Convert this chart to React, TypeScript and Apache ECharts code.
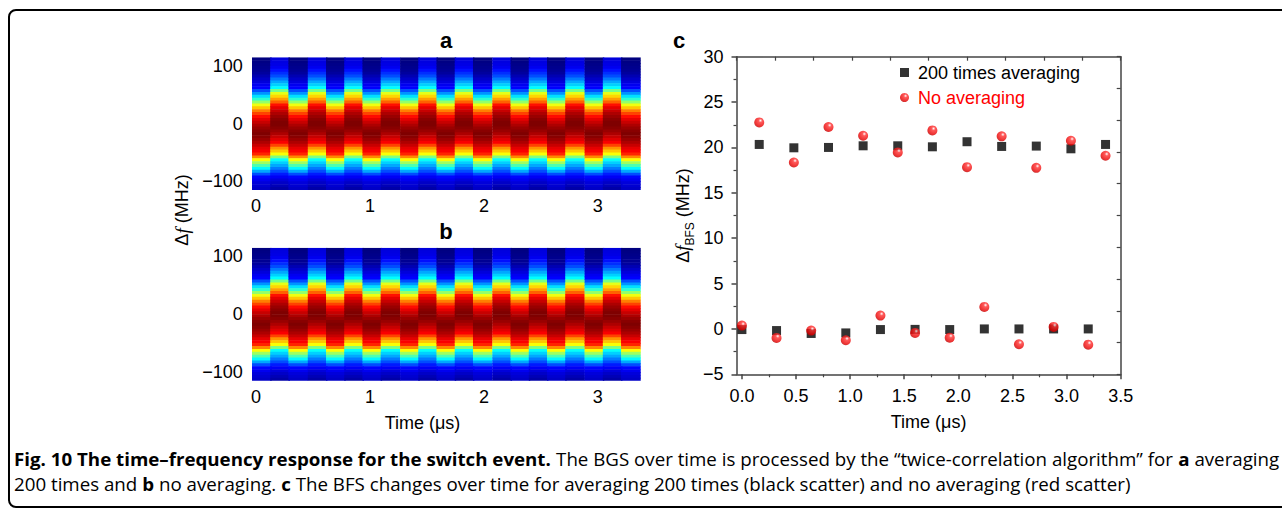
import React, { useEffect, useRef } from 'react';
import * as echarts from 'echarts';

// ---------- Heatmap data (panels a and b) ----------
// column centres on the time axis (µs)
const heatTimes = [0.05, 0.21, 0.37, 0.54, 0.70, 0.86, 1.02, 1.18, 1.35, 1.51, 1.67, 1.83, 1.99, 2.16, 2.32, 2.48, 2.64, 2.80, 2.97, 3.13, 3.29];
// row centres on the frequency axis (MHz)
const heatRows = [112.5, 107.5, 102.5, 97.5, 92.5, 87.5, 82.5, 77.5, 72.5, 67.5, 62.5, 57.5, 52.5, 47.5, 42.5, 37.5, 32.5, 27.5, 22.5, 17.5, 12.5, 7.5, 2.5, -2.5, -7.5, -12.5, -17.5, -22.5, -27.5, -32.5, -37.5, -42.5, -47.5, -52.5, -57.5, -62.5, -67.5, -72.5, -77.5, -82.5, -87.5, -92.5, -97.5, -102.5, -107.5, -112.5];
// normalised gain per row for columns whose peak sits higher ("L") and lower ("D")
const profileLight = [0.09, 0.095, 0.10, 0.11, 0.14, 0.17, 0.20, 0.245, 0.29, 0.33, 0.375, 0.49, 0.60, 0.665, 0.72, 0.78, 0.86, 0.90, 0.93, 0.955, 0.975, 0.99, 1.0, 1.0, 0.99, 0.975, 0.955, 0.93, 0.905, 0.88, 0.81, 0.73, 0.68, 0.62, 0.50, 0.38, 0.33, 0.29, 0.245, 0.20, 0.15, 0.115, 0.09, 0.07, 0.055, 0.04];
const profileDark = [0.0, 0.005, 0.01, 0.015, 0.02, 0.03, 0.05, 0.07, 0.09, 0.11, 0.125, 0.20, 0.27, 0.345, 0.42, 0.52, 0.61, 0.68, 0.75, 0.81, 0.865, 0.90, 0.93, 0.955, 0.975, 0.99, 1.0, 0.99, 0.975, 0.955, 0.93, 0.90, 0.88, 0.84, 0.74, 0.625, 0.53, 0.45, 0.37, 0.29, 0.20, 0.13, 0.11, 0.09, 0.08, 0.07];
const colTypesA = ['D', 'L', 'D', 'L', 'D', 'L', 'D', 'L', 'D', 'L', 'D', 'L', 'D', 'L', 'D', 'L', 'D', 'L', 'D', 'L', 'D'];
const colTypesB = ['D', 'L', 'D', 'L', 'D', 'L', 'D', 'L', 'D', 'L', 'D', 'L', 'D', 'L', 'D', 'L', 'D', 'L', 'D', 'L', 'D'];

// ---------- Scatter data (panel c) ----------
const timesHigh = [0.16, 0.48, 0.80, 1.12, 1.44, 1.76, 2.08, 2.40, 2.72, 3.04, 3.36];
const avgHigh = [20.33, 19.96, 20.0, 20.18, 20.18, 20.07, 20.63, 20.11, 20.15, 19.85, 20.33];
const noAvgHigh = [22.76, 18.34, 22.25, 21.29, 19.45, 21.88, 17.83, 21.22, 17.75, 20.74, 19.08];
const timesLow = [0, 0.32, 0.64, 0.96, 1.28, 1.60, 1.92, 2.24, 2.56, 2.88, 3.20];
const avgLow = [-0.07, -0.18, -0.5, -0.44, -0.07, -0.05, -0.07, 0, 0, 0, 0];
const noAvgLow = [0.37, -0.99, -0.18, -1.25, 1.47, -0.44, -0.96, 2.43, -1.69, 0.22, -1.73];

// ---------- Tick labels ----------
const heatXTicks = [0, 1, 2, 3];
const heatYTicks = [-100, 0, 100];
const cXTicks = [0, 0.5, 1.0, 1.5, 2.0, 2.5, 3.0, 3.5];
const cXMinor = [0.25, 0.75, 1.25, 1.75, 2.25, 2.75, 3.25];

const JET = ['#00007f', '#0000ff', '#007fff', '#00ffff', '#7fff7f', '#ffff00', '#ff7f00', '#ff0000', '#7f0000'];
const FONT = '"Liberation Sans", Arial, Helvetica, sans-serif';
const CAP_FONT = '"Open Sans", "Noto Sans", sans-serif';
const AX = '#444444';
const COL_W = 0.162;
const ROW_H = 5;

function buildHeat(types: string[]) {
  const out: number[][] = [];
  heatTimes.forEach((t, i) => {
    const prof = types[i] === 'D' ? profileDark : profileLight;
    heatRows.forEach((f, j) => out.push([t, f, prof[j]]));
  });
  return out;
}

const zip = (xs: number[], ys: number[]) => xs.map((x, i) => [x, ys[i]]);
const minus = (v: number) => (v < 0 ? '\u2212' + String(Math.abs(v)) : String(v));

const renderCell = (_params: any, api: any) => {
  const t = api.value(0);
  const f = api.value(1);
  const a = api.coord([t - COL_W / 2, f + ROW_H / 2]);
  const b = api.coord([t + COL_W / 2, f - ROW_H / 2]);
  return {
    type: 'rect',
    shape: { x: a[0] - 0.6, y: a[1], width: b[0] - a[0] + 1.2, height: b[1] - a[1] + 0.6 },
    style: { fill: api.visual('color') },
  };
};

const heatX = (grid: number) => ({
  type: 'value', gridIndex: grid, min: -0.03, max: 3.37,
  axisLine: { show: false }, axisTick: { show: false }, splitLine: { show: false },
  axisLabel: { customValues: heatXTicks, fontSize: 18, color: '#000', margin: 7, fontFamily: FONT },
});
const heatY = (grid: number) => ({
  type: 'value', gridIndex: grid, min: -115, max: 115,
  axisLine: { show: false }, axisTick: { show: false }, splitLine: { show: false },
  axisLabel: { customValues: heatYTicks, fontSize: 18, color: '#000', margin: 10, fontFamily: FONT, formatter: (v: number) => minus(v) },
});

const sphere = {
  type: 'radial', x: 0.62, y: 0.32, r: 0.75,
  colorStops: [
    { offset: 0, color: '#ffffff' },
    { offset: 0.25, color: '#ff3030' },
    { offset: 0.75, color: '#e80000' },
    { offset: 1, color: '#b00000' },
  ],
};

const boldText = (text: string, x: number, y: number) => ({
  type: 'text', x, y,
  style: { text, fontSize: 22, fontWeight: 'bold', fontFamily: FONT, fill: '#000', align: 'center', verticalAlign: 'middle', textAlign: 'center', textVerticalAlign: 'middle' },
});

const captionText = (text: string, y: number) => ({
  type: 'text', x: 14, y, scaleX: 1.07, scaleY: 1,
  style: {
    text, fontSize: 17.5, fontFamily: CAP_FONT, fill: '#000',
    verticalAlign: 'middle', textVerticalAlign: 'middle',
    rich: { b: { fontWeight: 'bold', fontSize: 17.5, fontFamily: CAP_FONT, fill: '#000' } },
  },
});

export default function App() {
  const ref = useRef<HTMLDivElement>(null);
  useEffect(() => {
    if (!ref.current) return;
    const chart = echarts.init(ref.current, null, { renderer: 'svg', width: 1282, height: 511 });
    const option: any = {
      animation: false,
      backgroundColor: '#ffffff',
      textStyle: { fontFamily: FONT },
      grid: [
        { left: 252.7, top: 57.3, width: 387.3, height: 132.7 },
        { left: 252.7, top: 247.7, width: 387.3, height: 133 },
        { left: 736.5, top: 56.7, width: 384.2, height: 317.6 },
      ],
      visualMap: {
        type: 'continuous', show: false, min: 0, max: 1, dimension: 2, seriesIndex: [0, 1],
        inRange: { color: JET },
      },
      legend: {
        orient: 'vertical', left: 900, top: 62.5, itemWidth: 9, itemHeight: 9, itemGap: 5, padding: 0,
        textStyle: { fontSize: 18, color: '#000', lineHeight: 20, padding: [0, 0, 0, 4], fontFamily: FONT },
        data: [
          { name: '200 times averaging', icon: 'rect' },
          { name: 'No averaging', icon: 'circle', textStyle: { color: '#ff0000' } },
        ],
      },
      xAxis: [
        heatX(0),
        heatX(1),
        {
          type: 'value', gridIndex: 2, min: -0.05, max: 3.5,
          axisLine: { show: true, onZero: false, lineStyle: { color: AX, width: 1.5 } },
          axisTick: { show: true, customValues: cXTicks, length: 5, lineStyle: { color: AX, width: 1.5 } },
          axisLabel: { customValues: cXTicks, fontSize: 18, color: '#000', margin: 13, fontFamily: FONT, formatter: (v: number) => v.toFixed(1) },
          splitLine: { show: false },
          name: 'Time (\u03bcs)', nameLocation: 'middle', nameGap: 39,
          nameTextStyle: { fontSize: 18, color: '#000', fontFamily: FONT },
        },
        {
          type: 'value', gridIndex: 2, min: -0.05, max: 3.5, position: 'bottom',
          axisLine: { show: false, onZero: false },
          axisTick: { show: true, customValues: cXMinor, length: 3, lineStyle: { color: AX, width: 1.2 } },
          axisLabel: { show: false }, splitLine: { show: false },
        },
        {
          type: 'value', gridIndex: 2, min: 0, max: 10, interval: 1, position: 'top',
          axisLine: { show: true, onZero: false, lineStyle: { color: AX, width: 1.5 } },
          axisTick: { show: true, inside: true, length: 4, lineStyle: { color: AX, width: 1.2 } },
          axisLabel: { show: false }, splitLine: { show: false },
        },
      ],
      yAxis: [
        heatY(0),
        heatY(1),
        {
          type: 'value', gridIndex: 2, min: -5, max: 30, interval: 5,
          axisLine: { show: true, onZero: false, lineStyle: { color: AX, width: 1.5 } },
          axisTick: { show: true, length: 5, lineStyle: { color: AX, width: 1.5 } },
          minorTick: { show: true, splitNumber: 2, length: 3, lineStyle: { color: AX, width: 1.2 } },
          axisLabel: { fontSize: 18, color: '#000', margin: 13, fontFamily: FONT, formatter: (v: number) => minus(v) },
          splitLine: { show: false },
          name: '{d|\u0394}{i|f}{s|BFS}{n| (MHz)}', nameLocation: 'middle', nameGap: 41, nameRotate: 90,
          nameTextStyle: {
            fontSize: 18, color: '#000', fontFamily: FONT,
            rich: {
              d: { fontSize: 18, fontFamily: FONT, lineHeight: 26, color: '#000' },
              i: { fontSize: 19, fontFamily: '"Liberation Serif", "DejaVu Serif", serif', fontStyle: 'italic', lineHeight: 26, color: '#000' },
              s: { fontSize: 12, fontFamily: FONT, verticalAlign: 'bottom', lineHeight: 12, color: '#000' },
              n: { fontSize: 18, fontFamily: FONT, lineHeight: 26, color: '#000' },
            },
          },
        },
        {
          type: 'value', gridIndex: 2, min: 0, max: 10, interval: 1, position: 'right',
          axisLine: { show: true, onZero: false, lineStyle: { color: AX, width: 1.5 } },
          axisTick: { show: true, inside: true, length: 4, lineStyle: { color: AX, width: 1.2 } },
          axisLabel: { show: false }, splitLine: { show: false },
        },
      ],
      series: [
        { type: 'custom', name: 'a', xAxisIndex: 0, yAxisIndex: 0, renderItem: renderCell, clip: true, data: buildHeat(colTypesA), silent: true },
        { type: 'custom', name: 'b', xAxisIndex: 1, yAxisIndex: 1, renderItem: renderCell, clip: true, data: buildHeat(colTypesB), silent: true },
        {
          type: 'scatter', name: '200 times averaging', xAxisIndex: 2, yAxisIndex: 2,
          symbol: 'rect', symbolSize: 9, itemStyle: { color: '#000' },
          data: [...zip(timesHigh, avgHigh), ...zip(timesLow, avgLow)],
        },
        {
          type: 'scatter', name: 'No averaging', xAxisIndex: 2, yAxisIndex: 2,
          symbol: 'circle', symbolSize: 10, itemStyle: { color: sphere },
          data: [...zip(timesHigh, noAvgHigh), ...zip(timesLow, noAvgLow)],
        },
      ],
      graphic: [
        {
          type: 'rect', silent: true, z: 100,
          shape: { x: 9, y: 10, width: 1300, height: 497, r: 7 },
          style: { fill: 'none', stroke: '#000', lineWidth: 2 },
        },
        boldText('a', 446, 40.6),
        boldText('b', 446, 231.6),
        boldText('c', 679, 40.6),
        {
          type: 'text', x: 182, y: 210, rotation: Math.PI / 2,
          style: {
            text: '{d|\u0394}{i|f}{n| (MHz)}', fill: '#000', fontSize: 18, fontFamily: FONT,
            align: 'center', verticalAlign: 'middle', textAlign: 'center', textVerticalAlign: 'middle',
            rich: {
              d: { fontSize: 18, fontFamily: FONT, fill: '#000' },
              i: { fontSize: 19, fontFamily: '"Liberation Serif", "DejaVu Serif", serif', fontStyle: 'italic', fill: '#000' },
              n: { fontSize: 18, fontFamily: FONT, fill: '#000' },
            },
          },
        },
        { type: 'text', x: 422.5, y: 423, style: { text: 'Time (\u03bcs)', fontSize: 18, fontFamily: FONT, fill: '#000', align: 'center', verticalAlign: 'middle', textAlign: 'center', textVerticalAlign: 'middle' } },
        captionText('{b|Fig. 10 The time\u2013frequency response for the switch event.} The BGS over time is processed by the \u201ctwice-correlation algorithm\u201d for {b|a} averaging', 459),
        captionText('200 times and {b|b} no averaging. {b|c} The BFS changes over time for averaging 200 times (black scatter) and no averaging (red scatter)', 484),
      ],
    };
    chart.setOption(option);
    return () => chart.dispose();
  }, []);
  return <div ref={ref} style={{ position: 'absolute', left: 0, top: 0, width: 1282, height: 511 }} />;
}
